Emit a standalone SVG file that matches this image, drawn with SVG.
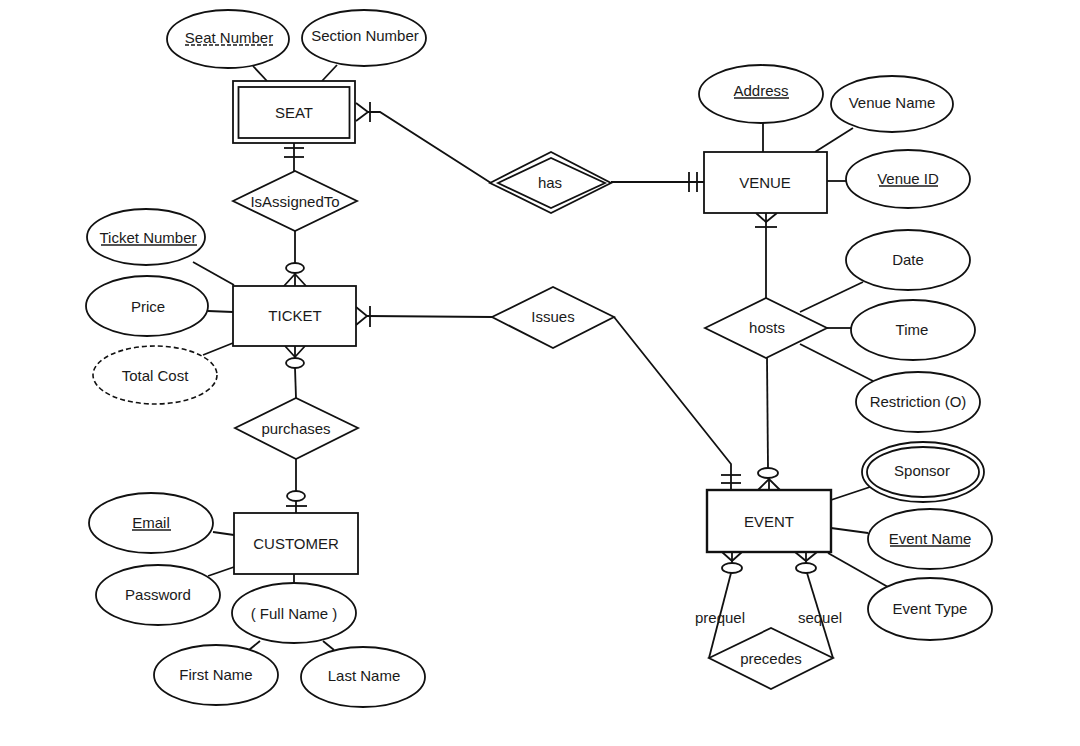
<svg xmlns="http://www.w3.org/2000/svg" width="1080" height="746" viewBox="0 0 1080 746">
<style>
.shape{fill:#fff;stroke:#111;stroke-width:1.8}
.ln{fill:none;stroke:#111;stroke-width:1.8}
.dash{fill:#fff;stroke:#111;stroke-width:1.6;stroke-dasharray:5 3}
.t{font-family:"Liberation Sans",Arial,sans-serif;font-size:15px;fill:#1a1a1a;text-anchor:middle;dominant-baseline:central}
.ul{stroke:#1a1a1a;stroke-width:1.3}
.ud{stroke:#1a1a1a;stroke-width:1.3;stroke-dasharray:4 2}
</style>
<rect width="1080" height="746" fill="#fff"/>
<g id="connectors">
<!-- attribute links -->
<line class="ln" x1="253" y1="66" x2="267" y2="81"/>
<line class="ln" x1="337" y1="65" x2="322" y2="81"/>
<line class="ln" x1="193" y1="262" x2="234" y2="285"/>
<line class="ln" x1="208" y1="311" x2="233" y2="312"/>
<line class="ln" x1="203" y1="355" x2="233" y2="343"/>
<line class="ln" x1="213" y1="532" x2="234" y2="535"/>
<line class="ln" x1="208" y1="576" x2="234" y2="567"/>
<line class="ln" x1="294" y1="574" x2="294" y2="583"/>
<line class="ln" x1="260" y1="641" x2="249" y2="650"/>
<line class="ln" x1="323" y1="641" x2="334" y2="650"/>
<line class="ln" x1="763" y1="123" x2="763" y2="152"/>
<line class="ln" x1="815" y1="152" x2="853" y2="128"/>
<line class="ln" x1="827" y1="181" x2="847" y2="181"/>
<line class="ln" x1="800" y1="312" x2="863" y2="282"/>
<line class="ln" x1="827" y1="328" x2="852" y2="328"/>
<line class="ln" x1="800" y1="344" x2="873" y2="381"/>
<line class="ln" x1="831" y1="500" x2="870" y2="487"/>
<line class="ln" x1="831" y1="528" x2="868" y2="533"/>
<line class="ln" x1="828" y1="553" x2="888" y2="587"/>
<!-- SEAT - has -->
<polyline class="ln" points="368,112 380,112 491,183"/>
<polyline class="ln" points="356,103 368,112 356,121"/>
<line class="ln" x1="370" y1="102" x2="370" y2="122"/>
<!-- has - VENUE -->
<line class="ln" x1="611" y1="182" x2="704" y2="182"/>
<line class="ln" x1="689" y1="172" x2="689" y2="192"/>
<line class="ln" x1="697" y1="172" x2="697" y2="192"/>
<!-- SEAT - isAssignedTo -->
<line class="ln" x1="294" y1="143" x2="294" y2="171"/>
<line class="ln" x1="284" y1="148" x2="304" y2="148"/>
<line class="ln" x1="284" y1="157" x2="304" y2="157"/>
<!-- isAssignedTo - TICKET -->
<line class="ln" x1="295" y1="231" x2="295" y2="263"/>
<ellipse class="shape" cx="295" cy="268" rx="9" ry="5"/>
<line class="ln" x1="295" y1="273" x2="295" y2="286"/>
<polyline class="ln" points="284,286 295,274 306,286"/>
<!-- TICKET - Issues -->
<line class="ln" x1="367" y1="316" x2="492" y2="317"/>
<polyline class="ln" points="356,307 367,316 356,325"/>
<line class="ln" x1="370" y1="306" x2="370" y2="327"/>
<!-- Issues - EVENT -->
<polyline class="ln" points="614,317 731,464 731,490"/>
<line class="ln" x1="721" y1="475" x2="741" y2="475"/>
<line class="ln" x1="721" y1="483" x2="741" y2="483"/>
<!-- TICKET - purchases -->
<polyline class="ln" points="285,346 295,357 305,346"/>
<line class="ln" x1="295" y1="346" x2="295" y2="358"/>
<ellipse class="shape" cx="295" cy="363" rx="9" ry="5"/>
<line class="ln" x1="295" y1="368" x2="296" y2="398"/>
<!-- purchases - CUSTOMER -->
<line class="ln" x1="296" y1="459" x2="296" y2="491"/>
<ellipse class="shape" cx="296" cy="496" rx="9" ry="5"/>
<line class="ln" x1="296" y1="501" x2="296" y2="513"/>
<line class="ln" x1="286" y1="506" x2="307" y2="506"/>
<!-- VENUE - hosts -->
<polyline class="ln" points="756,213 766,222 777,213"/>
<line class="ln" x1="766" y1="213" x2="766" y2="298"/>
<line class="ln" x1="755" y1="227" x2="777" y2="227"/>
<!-- hosts - EVENT -->
<line class="ln" x1="767" y1="358" x2="768" y2="468"/>
<ellipse class="shape" cx="768" cy="473" rx="10" ry="5"/>
<polyline class="ln" points="758,490 769,479 780,490"/>
<line class="ln" x1="769" y1="478" x2="769" y2="490"/>
<!-- EVENT - precedes (prequel) -->
<polyline class="ln" points="722,552 732,561 742,552"/>
<line class="ln" x1="732" y1="552" x2="732" y2="563"/>
<ellipse class="shape" cx="732" cy="568" rx="10" ry="5"/>
<line class="ln" x1="731" y1="573" x2="709" y2="658"/>
<!-- EVENT - precedes (sequel) -->
<polyline class="ln" points="795,552 806,561 817,552"/>
<line class="ln" x1="806" y1="552" x2="806" y2="563"/>
<ellipse class="shape" cx="806" cy="568" rx="10" ry="5"/>
<line class="ln" x1="807" y1="573" x2="833" y2="658"/>
<text class="t" x="720" y="617">prequel</text>
<text class="t" x="820" y="617">sequel</text>
</g>
<g id="SEAT">
<rect class="shape" x="233" y="81" width="122" height="62"/>
<rect class="shape" x="238.5" y="87" width="111" height="51"/>
<text class="t" x="294" y="112">SEAT</text>
</g>
<g id="SeatNumber">
<ellipse class="shape" cx="228" cy="39" rx="61" ry="29"/>
<text class="t" x="229" y="37">Seat Number</text>
<line class="ud" x1="185" y1="45" x2="273" y2="45"/>
</g>
<g id="SectionNumber">
<ellipse class="shape" cx="364" cy="38" rx="62" ry="28"/>
<text class="t" x="365" y="35">Section Number</text>
</g>
<g id="isAssignedTo">
<polygon class="shape" points="233,201 295,171 357,201 295,231"/>
<text class="t" x="295" y="201">IsAssignedTo</text>
</g>
<g id="TICKET">
<rect class="shape" x="233" y="286" width="123" height="60"/>
<text class="t" x="295" y="315">TICKET</text>
</g>
<g id="TicketNumber">
<ellipse class="shape" cx="146" cy="237" rx="59" ry="28"/>
<text class="t" x="148" y="237">Ticket Number</text>
<line class="ul" x1="101" y1="245" x2="197" y2="245"/>
</g>
<g id="Price">
<ellipse class="shape" cx="147" cy="306" rx="61" ry="30"/>
<text class="t" x="148" y="306">Price</text>
</g>
<g id="TotalCost">
<ellipse class="dash" cx="155" cy="375" rx="62" ry="29"/>
<text class="t" x="155" y="375">Total Cost</text>
</g>
<g id="purchases">
<polygon class="shape" points="235,428 296,398 358,428 296,459"/>
<text class="t" x="296" y="428">purchases</text>
</g>
<g id="CUSTOMER">
<rect class="shape" x="234" y="513" width="124" height="61"/>
<text class="t" x="296" y="543">CUSTOMER</text>
</g>
<g id="Email">
<ellipse class="shape" cx="151" cy="523" rx="62" ry="30"/>
<text class="t" x="151" y="522">Email</text>
<line class="ul" x1="132" y1="530" x2="171" y2="530"/>
</g>
<g id="Password">
<ellipse class="shape" cx="158" cy="595" rx="62" ry="30"/>
<text class="t" x="158" y="594">Password</text>
</g>
<g id="FullName">
<ellipse class="shape" cx="294" cy="613" rx="62" ry="30"/>
<text class="t" x="294" y="613">( Full Name )</text>
</g>
<g id="FirstName">
<ellipse class="shape" cx="216" cy="675" rx="62" ry="30"/>
<text class="t" x="216" y="674">First Name</text>
</g>
<g id="LastName">
<ellipse class="shape" cx="363" cy="677" rx="62" ry="30"/>
<text class="t" x="364" y="675">Last Name</text>
</g>
<g id="has">
<polygon class="shape" points="490,183 551,152 611,183 551,213"/>
<polygon class="shape" points="498,183 551,158 605,183 551,208"/>
<text class="t" x="550" y="182">has</text>
</g>
<g id="Issues">
<polygon class="shape" points="492,317 553,287 614,317 553,348"/>
<text class="t" x="553" y="316">Issues</text>
</g>
<g id="VENUE">
<rect class="shape" x="704" y="152" width="123" height="61"/>
<text class="t" x="765" y="182">VENUE</text>
</g>
<g id="Address">
<ellipse class="shape" cx="761" cy="94" rx="62" ry="29"/>
<text class="t" x="761" y="90">Address</text>
<line class="ul" x1="734" y1="98" x2="789" y2="98"/>
</g>
<g id="VenueName">
<ellipse class="shape" cx="892" cy="104" rx="61" ry="28"/>
<text class="t" x="892" y="102">Venue Name</text>
</g>
<g id="VenueID">
<ellipse class="shape" cx="908" cy="179" rx="62" ry="29"/>
<text class="t" x="908" y="178">Venue ID</text>
<line class="ul" x1="879" y1="186" x2="938" y2="186"/>
</g>
<g id="hosts">
<polygon class="shape" points="705,328 766,298 827,328 766,358"/>
<text class="t" x="767" y="327">hosts</text>
</g>
<g id="Date">
<ellipse class="shape" cx="908" cy="260" rx="62" ry="30"/>
<text class="t" x="908" y="259">Date</text>
</g>
<g id="Time">
<ellipse class="shape" cx="913" cy="330" rx="62" ry="30"/>
<text class="t" x="912" y="329">Time</text>
</g>
<g id="Restriction">
<ellipse class="shape" cx="918" cy="402" rx="62" ry="30"/>
<text class="t" x="918" y="401">Restriction (O)</text>
</g>
<g id="EVENT">
<rect class="shape" x="707" y="490" width="124" height="62" style="stroke-width:2.4"/>
<text class="t" x="769" y="521">EVENT</text>
</g>
<g id="Sponsor">
<ellipse class="shape" cx="923" cy="472" rx="61" ry="30"/>
<ellipse class="shape" cx="923" cy="472" rx="56" ry="25"/>
<text class="t" x="922" y="470">Sponsor</text>
</g>
<g id="EventName">
<ellipse class="shape" cx="930" cy="539" rx="62" ry="30"/>
<text class="t" x="930" y="538">Event Name</text>
<line class="ul" x1="890" y1="546" x2="970" y2="546"/>
</g>
<g id="EventType">
<ellipse class="shape" cx="930" cy="609" rx="62" ry="31"/>
<text class="t" x="930" y="608">Event Type</text>
</g>
<g id="precedes">
<polygon class="shape" points="709,658 771,628 833,658 771,689"/>
<text class="t" x="771" y="658">precedes</text>
</g>
</svg>
